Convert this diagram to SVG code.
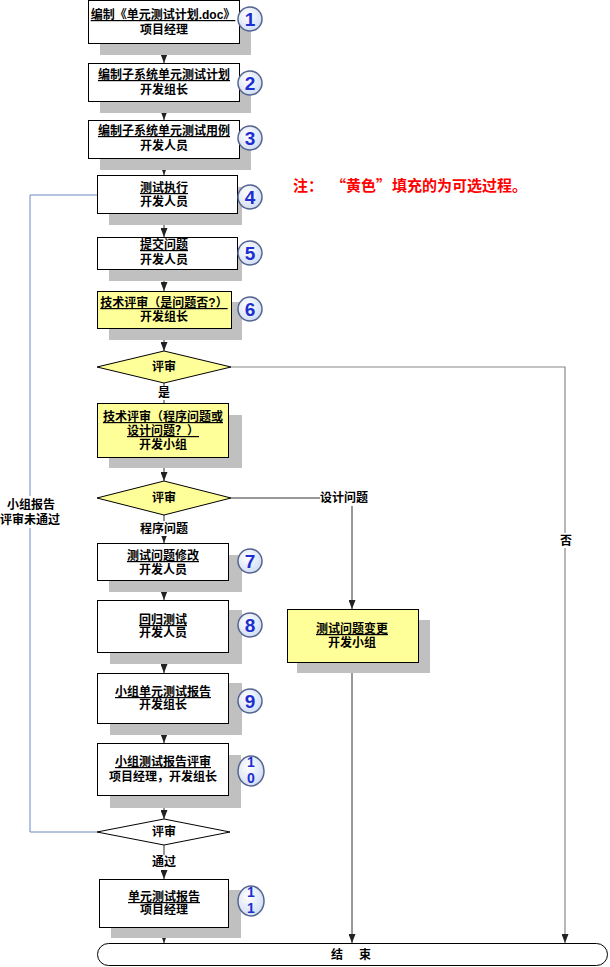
<svg xmlns="http://www.w3.org/2000/svg" width="610" height="967" viewBox="0 0 610 967">
<style>
.t{font-family:"Liberation Sans","Noto Sans CJK SC",sans-serif;font-size:12px;font-weight:bold;fill:#000;text-anchor:middle}
.u{text-decoration:underline}
.b{fill:#fff;stroke:#000;stroke-width:1}
.y{fill:#ffff99;stroke:#000;stroke-width:1}
.sh{fill:#c0c0c0}
.c{fill:url(#cg);stroke:#56658f;stroke-width:1.5}
.n{font-family:"Liberation Sans",sans-serif;font-size:19px;font-weight:bold;fill:#1c2fd0;text-anchor:middle}
.n2{font-size:14px}
.ln{stroke:#333;stroke-width:1;fill:none}
.lg{stroke:#888;stroke-width:1.2;fill:none}
.lb{stroke:#6a88c0;stroke-width:1;fill:none}
.bg{fill:#fff}
.note{font-family:"Noto Sans CJK SC",sans-serif;font-size:15px;font-weight:bold;fill:#ff0000}
</style>
<defs>
<radialGradient id="cg" cx="40%" cy="35%" r="70%"><stop offset="0" stop-color="#ffffff"/><stop offset="1" stop-color="#cfdcf3"/></radialGradient>
<marker id="ar" viewBox="0 0 9 7" refX="9" refY="3.5" markerWidth="9" markerHeight="7" orient="auto" markerUnits="userSpaceOnUse"><path d="M0,0 L9,3.5 L0,7 z" fill="#222"/></marker>
</defs>

<g id="connectors">
<path class="ln" d="M164,43 V63" marker-end="url(#ar)"/>
<path class="ln" d="M164,101 V120" marker-end="url(#ar)"/>
<path class="ln" d="M164,158 V175" marker-end="url(#ar)"/>
<path class="ln" d="M164,213 V237" marker-end="url(#ar)"/>
<path class="ln" d="M164,269 V291" marker-end="url(#ar)"/>
<path class="ln" d="M164,328 V351" marker-end="url(#ar)"/>
<path class="ln" d="M164,383 V403"/>
<path class="ln" d="M164,457 V481" marker-end="url(#ar)"/>
<path class="ln" d="M164,515 V543" marker-end="url(#ar)"/>
<path class="ln" d="M164,580 V600" marker-end="url(#ar)"/>
<path class="ln" d="M164,652 V673" marker-end="url(#ar)"/>
<path class="ln" d="M164,723 V743" marker-end="url(#ar)"/>
<path class="ln" d="M164,795 V819" marker-end="url(#ar)"/>
<path class="ln" d="M164,845 V879" marker-end="url(#ar)"/>
<path class="ln" d="M164,927 V943" marker-end="url(#ar)"/>
<path class="lg" d="M231,367 H565 V943" marker-end="url(#ar)"/>
<path class="ln" d="M231,498 H352 V609" marker-end="url(#ar)"/>
<path class="ln" d="M352,662 V943" marker-end="url(#ar)"/>
<path class="lb" d="M97,832 H30 V195 H97"/>
<rect class="bg" x="156" y="386" width="16" height="14"/>
<text class="t" x="164" y="397">是</text>
<rect class="bg" x="140" y="521" width="48" height="15"/>
<text class="t" x="164" y="533">程序问题</text>
<rect class="bg" x="152" y="855" width="24" height="15"/>
<text class="t" x="164" y="866">通过</text>
<rect class="bg" x="320" y="491" width="48" height="15"/>
<text class="t" x="344" y="502">设计问题</text>
<rect class="bg" x="558" y="533" width="16" height="15"/>
<text class="t" x="566" y="545">否</text>
<rect class="bg" x="0" y="496" width="62" height="32"/>
<text class="t" x="31" y="509">小组报告</text>
<text class="t" x="30" y="524">评审未通过</text>
</g>

<g id="n1"><rect class="sh" x="100" y="10" width="151" height="45"/><rect class="b" x="88.5" y="0.5" width="151" height="43"/><text class="t u" x="163" y="19">编制《单元测试计划.doc》</text><text class="t" x="164" y="34">项目经理</text></g>
<g id="n2"><rect class="sh" x="100" y="75" width="151" height="38"/><rect class="b" x="88.5" y="63.5" width="151" height="38"/><text class="t u" x="164" y="79">编制子系统单元测试计划</text><text class="t" x="164" y="94">开发组长</text></g>
<g id="n3"><rect class="sh" x="100" y="132" width="151" height="38"/><rect class="b" x="88.5" y="120.5" width="151" height="38"/><text class="t u" x="164" y="135">编制子系统单元测试用例</text><text class="t" x="164" y="150">开发人员</text></g>
<g id="n4"><rect class="sh" x="109" y="187" width="133" height="38"/><rect class="b" x="97.5" y="175.5" width="140" height="38"/><text class="t u" x="164" y="192">测试执行</text><text class="t" x="164" y="206">开发人员</text></g>
<g id="n5"><rect class="sh" x="109" y="248" width="133" height="33"/><rect class="b" x="97.5" y="237.5" width="140" height="32"/><text class="t u" x="164" y="249">提交问题</text><text class="t" x="164" y="264">开发人员</text></g>
<g id="n6"><rect class="sh" x="109" y="302" width="133" height="38"/><rect class="y" x="97.5" y="291.5" width="134" height="37"/><text class="t u" x="164" y="307">技术评审（是问题否?）</text><text class="t" x="164" y="321">开发组长</text></g>
<g id="d1"><polygon class="y" points="97,367 164,351 231,367 164,383"/><text class="t" x="164" y="371">评审</text></g>
<g id="n7"><rect class="sh" x="109" y="415" width="133" height="53"/><rect class="y" x="97.5" y="403.5" width="131" height="54"/><text class="t u" x="163" y="421">技术评审（程序问题或</text><text class="t u" x="163" y="435">设计问题？）</text><text class="t" x="163" y="449">开发小组</text></g>
<g id="d2"><polygon class="y" points="97,498 164,481 231,498 164,515"/><text class="t" x="164" y="502">评审</text></g>
<g id="n8"><rect class="sh" x="109" y="555" width="133" height="37"/><rect class="b" x="97.5" y="543.5" width="131" height="37"/><text class="t u" x="163" y="560">测试问题修改</text><text class="t" x="163" y="574">开发人员</text></g>
<g id="n9"><rect class="sh" x="110" y="610" width="132" height="54"/><rect class="b" x="97.5" y="600.5" width="131" height="52"/><text class="t u" x="163" y="624">回归测试</text><text class="t" x="163" y="637">开发人员</text></g>
<g id="n10"><rect class="sh" x="110" y="683" width="132" height="52"/><rect class="b" x="97.5" y="673.5" width="131" height="50"/><text class="t u" x="163" y="696">小组单元测试报告</text><text class="t" x="163" y="709">开发组长</text></g>
<g id="n11"><rect class="sh" x="110" y="755" width="131" height="53"/><rect class="b" x="97.5" y="743.5" width="131" height="52"/><text class="t u" x="163" y="766">小组测试报告评审</text><text class="t" x="163" y="781">项目经理，开发组长</text></g>
<g id="d3"><polygon class="b" points="97,832 164,819 230,832 164,845"/><text class="t" x="164" y="836">评审</text></g>
<g id="n12"><rect class="sh" x="111" y="890" width="130" height="48"/><rect class="b" x="99.5" y="879.5" width="129" height="48"/><text class="t u" x="164" y="901">单元测试报告</text><text class="t" x="164" y="914">项目经理</text></g>
<g id="n13"><rect class="sh" x="297" y="620" width="133" height="53"/><rect class="y" x="287.5" y="609.5" width="131" height="53"/><text class="t u" x="352" y="633">测试问题变更</text><text class="t" x="352" y="647">开发小组</text></g>
<g id="end"><rect class="b" x="97.5" y="943.5" width="510" height="22" rx="11"/><text class="t" x="337 365" y="959">结束</text></g>

<g id="badges">
<circle class="c" cx="250" cy="19" r="12"/><text class="n" x="250" y="26">1</text>
<circle class="c" cx="250" cy="83" r="12"/><text class="n" x="250" y="90">2</text>
<circle class="c" cx="250" cy="138" r="12"/><text class="n" x="250" y="145">3</text>
<circle class="c" cx="250" cy="197" r="12"/><text class="n" x="250" y="204">4</text>
<circle class="c" cx="250" cy="253" r="12"/><text class="n" x="250" y="260">5</text>
<circle class="c" cx="250" cy="309" r="12"/><text class="n" x="250" y="316">6</text>
<circle class="c" cx="250" cy="561" r="12"/><text class="n" x="250" y="568">7</text>
<circle class="c" cx="250" cy="625" r="12"/><text class="n" x="250" y="632">8</text>
<circle class="c" cx="250" cy="701" r="12"/><text class="n" x="250" y="708">9</text>
<ellipse class="c" cx="251" cy="771" rx="13" ry="15"/><text class="n n2" x="251" y="767">1</text><text class="n n2" x="251" y="783">0</text>
<ellipse class="c" cx="251" cy="901" rx="13" ry="15"/><text class="n n2" x="251" y="897">1</text><text class="n n2" x="251" y="913">1</text>
</g>

<g id="note"><text class="note" y="191"><tspan x="293">注：</tspan><tspan x="331">“黄色”</tspan><tspan x="392">填充的为可选过程。</tspan></text></g>
</svg>
